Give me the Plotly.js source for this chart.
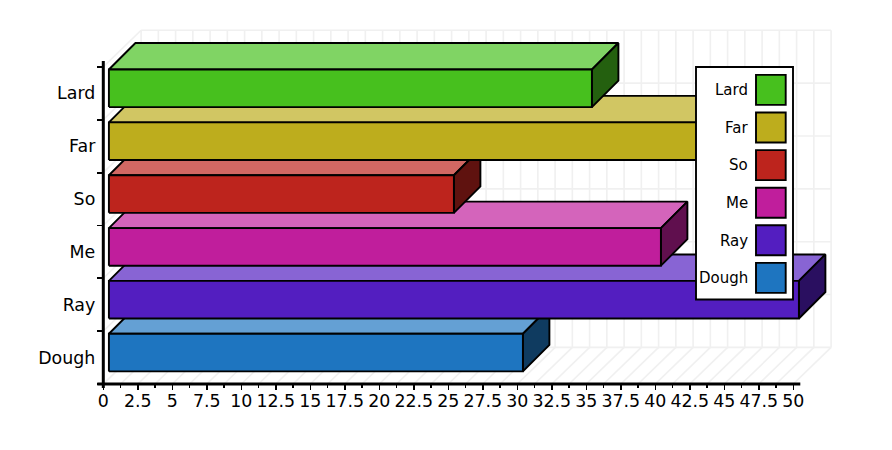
<!DOCTYPE html>
<html><head><meta charset="utf-8">
<script src="https://cdn.plot.ly/plotly-3.0.1.min.js"></script>
<style>html,body{margin:0;padding:0;background:#fff}</style></head>
<body><div id="chart" style="width:892px;height:450px"></div>
<script>
var categories = ['Dough','Ray','Me','So','Far','Lard'];
var values = [30,50,40,25,45,35];
var colors = ['#1e75c0','#531ec0','#c01e9c','#bd241d','#bdad1d','#47c01e'];
var legendOrder = ['Lard','Far','So','Me','Ray','Dough'];
var xTickLabels = ['0','2.5','5','7.5','10','12.5','15','17.5','20','22.5','25','27.5','30','32.5','35','37.5','40','42.5','45','47.5','50'];

var PW=892,PH=450;
var L=103.3,R=793.3,T=66.9,B=384,W=R-L,H=B-T;
var pxX=W/50,pxY=H/6;
function dx(p){return p/pxX} function dy(p){return p/pxY}
function mix(hex,t,target){var r=[1,3,5].map(function(i){return parseInt(hex.substr(i,2),16)});
  return 'rgb('+r.map(function(c){return Math.round(c+(target-c)*t)}).join(',')+')';}

var traces=[];
// invisible carrier so that the labelled axes are drawn
traces.push({type:'scatter',mode:'markers',x:values,y:categories.map(function(c,i){return i}),marker:{opacity:0},hoverinfo:'skip',xaxis:'x',yaxis:'y'});
function add(t){t.xaxis='x2';t.yaxis='y2';t.hoverinfo='skip';traces.push(t);}

var grid={x:[],y:[]};
function seg(a,b,c,d){grid.x.push(a,c,null);grid.y.push(b,d,null);}
var wx=dx(37.8),wy=dy(36.6);
var minorVals=[],k;
for(k=0;k<=40;k++){var v=k*1.25;
  seg(v+wx,-0.5+wy,v+wx,5.5+wy);
  seg(v,-0.5,v+wx,-0.5+wy);
  if(k%2===1)minorVals.push(v);
}
var boundaries=[];
for(k=0;k<=6;k++){var b=k-0.5;boundaries.push(b);
  seg(wx,b+wy,50+wx,b+wy);
  seg(0,b,wx,b+wy);
}
add({type:'scatter',mode:'lines',x:grid.x,y:grid.y,line:{color:'#f0f0f0',width:1.6}});

function poly(xs,ys,fill){add({type:'scatter',mode:'lines',x:xs.concat(xs[0]),y:ys.concat(ys[0]),fill:'toself',fillcolor:fill,
  line:{color:'#000',width:1.9,shape:'linear'}});}
var x0=dx(5.6),cOff=dy(5.0),half=dy(18.8),ddx=dx(26.5),ddy=dy(26.5);
categories.forEach(function(c,i){
  var xe=values[i]+x0,y0=i+cOff-half,y1=i+cOff+half;
  poly([x0,xe,xe+ddx,x0+ddx],[y1,y1,y1+ddy,y1+ddy],mix(colors[i],0.31,255));
  poly([xe,xe+ddx,xe+ddx,xe],[y0,y0+ddy,y1+ddy,y1],mix(colors[i],0.5,0));
  poly([x0,xe,xe,x0],[y0,y0,y1,y1],colors[i]);
});
// axis lines
add({type:'scatter',mode:'lines',x:[-dx(6),50+dx(7)],y:[-0.5,-0.5],line:{color:'#000',width:3}});
add({type:'scatter',mode:'lines',x:[0,0],y:[-0.5-dy(4),5.5+dy(6)],line:{color:'#000',width:3}});

var shapes=[],annotations=[];
function px(p){return p/PW} function py(p){return 1-p/PH}
shapes.push({type:'rect',xref:'paper',yref:'paper',x0:px(696),x1:px(793),y0:py(67),y1:py(299.5),fillcolor:'#fff',line:{color:'#000',width:1.9},layer:'above'});
legendOrder.forEach(function(name,i){
  var top=74.9+37.6*i,col=colors[categories.indexOf(name)];
  shapes.push({type:'rect',xref:'paper',yref:'paper',x0:px(756),x1:px(785.7),y0:py(top),y1:py(top+30),fillcolor:col,line:{color:'#000',width:1.9},layer:'above'});
  annotations.push({xref:'paper',yref:'paper',x:px(749.8),y:py(top+15.3),xanchor:'right',yanchor:'middle',text:name,showarrow:false,font:{family:'DejaVu Sans',size:15,color:'#000'}});
});

var layout={width:PW,height:PH,showlegend:false,paper_bgcolor:'#fff',plot_bgcolor:'rgba(0,0,0,0)',
  margin:{l:0,r:0,t:0,b:0,pad:0},
  xaxis:{domain:[L/PW,R/PW],range:[0,50],anchor:'y',tickmode:'array',tickvals:xTickLabels.map(Number),ticktext:xTickLabels,ticks:'outside',ticklen:5,tickwidth:1.5,tickcolor:'#000',
    showgrid:false,zeroline:false,showline:false,ticklabelstandoff:-4,tickfont:{family:'DejaVu Sans',size:17.4,color:'#000'},tickangle:0,automargin:false,
    minor:{tickmode:'array',tickvals:minorVals,ticks:'outside',ticklen:3,tickwidth:1.5,tickcolor:'#000',showgrid:false}},
  yaxis:{domain:[1-B/PH,1-T/PH],range:[-0.5,5.5],anchor:'x',tickmode:'array',tickvals:categories.map(function(c,i){return i}),ticktext:categories,ticks:'',ticklen:0,
    showgrid:false,zeroline:false,showline:false,ticklabelstandoff:7,automargin:false,tickfont:{family:'DejaVu Sans',size:17.4,color:'#000'},
    minor:{tickmode:'array',tickvals:boundaries,ticks:'outside',ticklen:5,tickwidth:1.8,tickcolor:'#000',showgrid:false}},
  xaxis2:{domain:[0,1],range:[-L/pxX,(PW-L)/pxX],anchor:'y2',visible:false,fixedrange:true},
  yaxis2:{domain:[0,1],range:[-0.5-(PH-B)/pxY,-0.5+B/pxY],anchor:'x2',visible:false,fixedrange:true},
  shapes:shapes,annotations:annotations};
Plotly.newPlot('chart',traces,layout,{displayModeBar:false,staticPlot:true});
</script></body></html>
